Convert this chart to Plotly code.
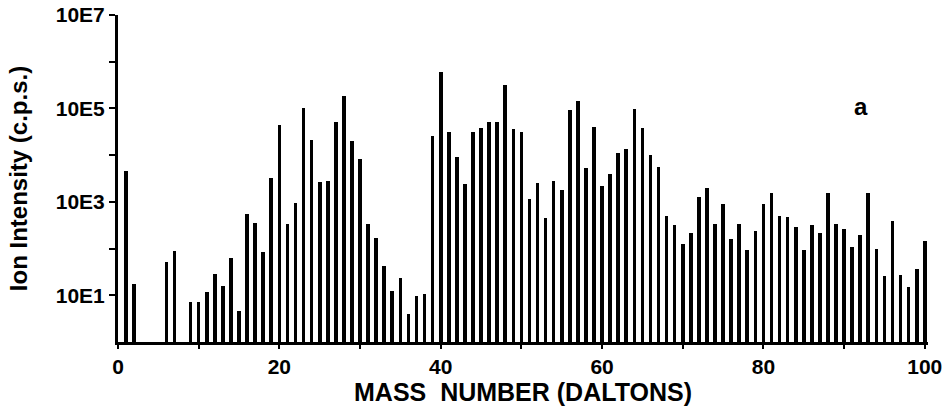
import plotly.graph_objects as go

# Mass numbers (Daltons) and log10 of ion intensity (c.p.s.)
mass = [1, 2, 6, 7, 9, 10, 11, 12, 13, 14, 15, 16, 17, 18, 19, 20, 21, 22, 23, 24,
        25, 26, 27, 28, 29, 30, 31, 32, 33, 34, 35, 36, 37, 38, 39, 40, 41, 42, 43, 44,
        45, 46, 47, 48, 49, 50, 51, 52, 53, 54, 55, 56, 57, 58, 59, 60, 61, 62, 63, 64,
        65, 66, 67, 68, 69, 70, 71, 72, 73, 74, 75, 76, 77, 78, 79, 80, 81, 82, 83, 84,
        85, 86, 87, 88, 89, 90, 91, 92, 93, 94, 95, 96, 97, 98, 99, 100]
log_intensity = [3.65, 1.21, 1.71, 1.95, 0.78, 0.78, 1.04, 1.43, 1.16, 1.79, 0.56, 2.73, 2.55, 1.93, 3.52, 4.65, 2.52, 2.97, 5.00, 4.33,
                 3.43, 3.45, 4.72, 5.27, 4.31, 3.92, 2.52, 2.22, 1.61, 1.06, 1.35, 0.47, 0.94, 0.98, 4.40, 5.77, 4.50, 3.97, 3.38, 4.49,
                 4.59, 4.72, 4.70, 5.50, 4.56, 4.50, 3.06, 3.41, 2.65, 3.45, 3.25, 4.97, 5.16, 3.73, 4.61, 3.33, 3.59, 4.04, 4.13, 4.99,
                 4.58, 4.00, 3.74, 2.70, 2.51, 2.09, 2.34, 3.11, 3.30, 2.52, 2.95, 2.20, 2.52, 1.96, 2.38, 2.95, 3.20, 2.70, 2.68, 2.47,
                 1.97, 2.51, 2.33, 3.20, 2.52, 2.42, 2.02, 2.28, 3.18, 1.99, 1.40, 2.58, 1.41, 1.15, 1.54, 2.15]
intensity = [10 ** v for v in log_intensity]

y_tickvals = [10, 100, 1e3, 1e4, 1e5, 1e6, 1e7]
y_ticktext = ["10E1", "", "10E3", "", "10E5", "", "10E7"]
x_tickvals = [0, 10, 20, 30, 40, 50, 60, 70, 80, 90, 100]
x_ticktext = ["0", "", "20", "", "40", "", "60", "", "80", "", "100"]

font_family = "Liberation Sans, Arial, sans-serif"

fig = go.Figure()
fig.add_trace(go.Bar(
    x=mass, y=intensity, base=1, width=0.45,
    marker=dict(color="black", line=dict(width=0)),
    hoverinfo="x+y",
))

fig.update_layout(
    width=948, height=415,
    margin=dict(l=118, r=20, t=15, b=73),
    paper_bgcolor="white", plot_bgcolor="white",
    showlegend=False,
    bargap=0,
    font=dict(family=font_family, color="black"),
    annotations=[dict(
        text="<b>a</b>", x=0.917, y=0.72, xref="paper", yref="paper",
        xanchor="center", yanchor="middle",
        showarrow=False, font=dict(size=24, color="black", family=font_family),
    )],
)

fig.update_xaxes(
    range=[0, 100.4], tickvals=x_tickvals, ticktext=x_ticktext,
    ticks="outside", ticklen=4, tickwidth=2, tickcolor="black",
    showline=True, linecolor="black", linewidth=3,
    showgrid=False, zeroline=False, automargin=False,
    ticklabeloverflow="allow",
    tickfont=dict(size=21, family=font_family, weight="bold"),
    title=dict(text="<b>MASS  NUMBER (DALTONS)</b>", font=dict(size=25), standoff=0),
)
fig.update_yaxes(
    type="log", range=[0, 7], tickvals=y_tickvals, ticktext=y_ticktext,
    ticks="outside", ticklen=6, tickwidth=2, tickcolor="black",
    showline=True, linecolor="black", linewidth=3,
    showgrid=False, zeroline=False, automargin=False,
    ticklabeloverflow="allow",
    tickfont=dict(size=21, family=font_family, weight="bold"),
    title=dict(text="<b>Ion Intensity (c.p.s.)</b>", font=dict(size=24), standoff=22),
)

fig.write_html("out.html",
               config={"displayModeBar": False},
               post_script="document.body.style.margin='0';document.body.style.overflow='hidden';")
